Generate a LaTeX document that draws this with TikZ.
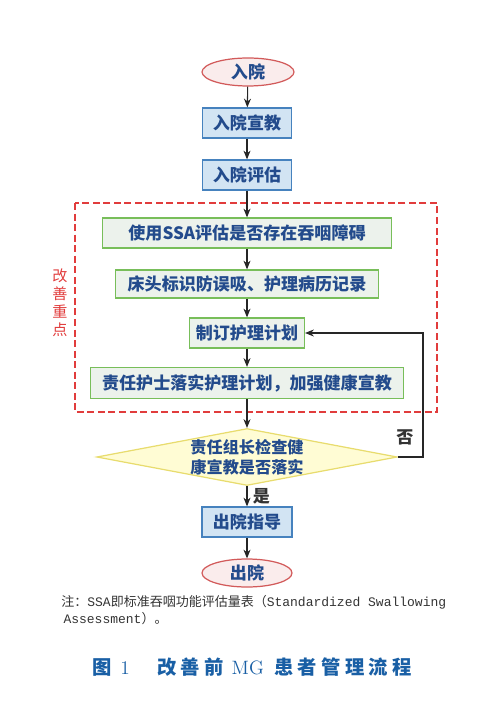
\documentclass[tikz,border=0pt]{standalone}
\usepackage{fontspec}
\newfontfamily\cjk{Noto Sans CJK SC}
\newfontfamily\monofont{Liberation Mono}
\usepackage{xcolor}
\usepackage{tikz}
\usetikzlibrary{positioning,arrows.meta,shapes.geometric}

\definecolor{textblue}{RGB}{35,75,140}
\definecolor{wardline}{RGB}{70,130,190}
\definecolor{wardfill}{RGB}{210,228,243}
\definecolor{keyline}{RGB}{120,190,90}
\definecolor{keyfill}{RGB}{236,242,236}
\definecolor{gateline}{RGB}{232,220,110}
\definecolor{gatefill}{RGB}{255,252,212}
\definecolor{termline}{RGB}{210,90,90}
\definecolor{termfill}{RGB}{250,236,236}
\definecolor{focusred}{RGB}{225,60,60}
\definecolor{capblue}{RGB}{25,95,165}
\newcommand{\capgap}{\hspace{2.4pt}}

\begin{document}
\begin{tikzpicture}[
    x=0.02cm, y=-0.02cm,
    base/.style={font=\cjk\bfseries\fontsize{9.7}{12}\selectfont, text=textblue,
                 inner sep=0pt, line width=0.7pt},
    term/.style={base, ellipse, draw=termline, fill=termfill,
                 minimum width=1.84cm, minimum height=0.56cm},
    ward/.style={base, draw=wardline, fill=wardfill, minimum width=1.78cm,
                 minimum height=0.6cm},
    keybox/.style={base, draw=keyline, fill=keyfill, minimum height=0.6cm},
    gate/.style={base, diamond, draw=gateline, fill=gatefill, shape aspect=5.3,
                 minimum width=6cm, minimum height=1.14cm, align=center,
                 font=\cjk\bfseries\fontsize{9.2}{11.2}\selectfont},
    flow/.style={->, line width=0.6pt, draw=black!85},
    tag/.style={font=\cjk\bfseries\fontsize{9.7}{12}\selectfont, text=black!80, inner sep=1pt},
    >={Stealth[length=5pt,width=4pt]}
]
\useasboundingbox (0,0) rectangle (500,705);

\node[term] (admit) at (248,72) {入院};
\node[ward] (edu) at (247,123) {入院宣教};
\node[ward] (assess) at (247,175) {入院评估};

\draw[focusred, dashed, dash pattern=on 4pt off 2pt, line width=0.7pt]
    (75,203) rectangle (437,412);
\node[text=focusred, align=center, inner sep=0pt,
      font=\cjk\fontsize{8.6}{10.2}\selectfont] (focus) at (60,303) {改\\善\\重\\点};

\node[keybox, minimum width=5.78cm] (ssa) at (247,233) {使用SSA评估是否存在吞咽障碍};
\node[keybox, minimum width=5.26cm, minimum height=0.56cm] (bed) at (247,284) {床头标识防误吸、护理病历记录};
\node[keybox, minimum width=2.3cm] (plan) at (247,333) {制订护理计划};
\node[keybox, minimum width=6.26cm, minimum height=0.62cm] (duty) at (247,383) {责任护士落实护理计划，加强健康宣教};

\node[gate] (check) at (247,457) {责任组长检查健\\康宣教是否落实};
\node[ward, minimum width=1.8cm] (guide) at (247,522) {出院指导};
\node[term, minimum width=1.8cm] (leave) at (247,573) {出院};

\draw[flow] (admit) -- (edu);
\draw[flow] (edu) -- (assess);
\draw[flow] (assess) -- (ssa);
\draw[flow] (ssa) -- (bed);
\draw[flow] (bed) -- (plan);
\draw[flow] (plan) -- (duty);
\draw[flow] (duty) -- (check);
\draw[flow] (check) -- node[tag, right=2pt] {是} (guide);
\draw[flow] (guide) -- (leave);

\coordinate (back) at (423,457);
\draw[flow] (check.east) -- (back) |- (plan.east);
\node[tag] (no) at (405,437) {否};

% note and caption
\node[anchor=west, inner sep=0pt, align=left, text=black!80,
      font=\fontsize{7.4}{10}\selectfont] (note) at (61,610)
    {{\cjk 注：}{\monofont SSA}{\cjk 即标准吞咽功能评估量表（}{\monofont Standardized Swallowing}\\
     {\monofont\,Assessment}{\cjk ）。}};
\node[anchor=west, inner sep=0pt, text=capblue,
      font=\fontsize{11}{13}\selectfont] (fig) at (92,667) {{\cjk\bfseries 图}\hspace{5pt}\rmfamily 1};
\node[anchor=west, inner sep=0pt, text=capblue,
      font=\fontsize{11}{13}\selectfont] (cap) at (157,667)
    {{\cjk\bfseries 改\capgap 善\capgap 前}\hspace{4.5pt}{\rmfamily MG}\hspace{6pt}%
     {\cjk\bfseries 患\capgap 者\capgap 管\capgap 理\capgap 流\capgap 程}};
\end{tikzpicture}
\end{document}
